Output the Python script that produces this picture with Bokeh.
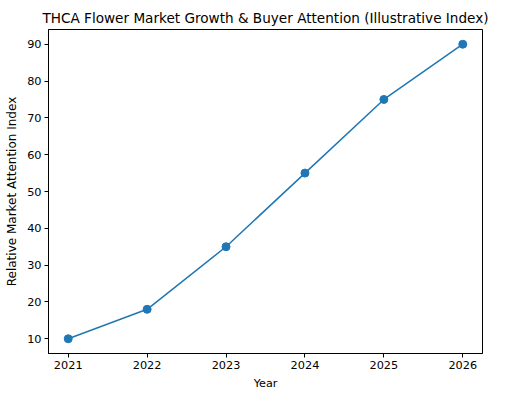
from bokeh.plotting import figure
from bokeh.models import Range1d, FixedTicker
from bokeh.embed import file_html
from bokeh.resources import INLINE

years = [2021, 2022, 2023, 2024, 2025, 2026]
index_values = [10, 18, 35, 55, 75, 90]
y_ticks = [10, 20, 30, 40, 50, 60, 70, 80, 90]

FONT = "DejaVu Sans"
COLOR = "#1f77b4"

p = figure(frame_width=434, frame_height=324, output_backend="svg", toolbar_location=None,
           x_range=Range1d(2020.75, 2026.25), y_range=Range1d(6, 94),
           min_border_left=48, min_border_right=17, min_border_bottom=34, min_border_top=29,
           title="THCA Flower Market Growth & Buyer Attention (Illustrative Index)")

p.line(years, index_values, line_color=COLOR, line_width=1.5)
p.scatter(years, index_values, size=8, fill_color=COLOR, line_color=COLOR)

p.title.text_font = FONT
p.title.text_font_size = "13.6px"
p.title.text_font_style = "normal"
p.title.align = "center"
p.title.text_color = "black"
p.title.offset = 0
p.title.standoff = 7

p.xgrid.visible = False
p.ygrid.visible = False
p.outline_line_color = "black"
p.outline_line_alpha = 1
p.outline_line_width = 1

p.xaxis.ticker = FixedTicker(ticks=years)
p.yaxis.ticker = FixedTicker(ticks=y_ticks)
p.xaxis.axis_label = "Year"
p.yaxis.axis_label = "Relative Market Attention Index"

for ax in (p.xaxis[0], p.yaxis[0]):
    ax.axis_label_text_font = FONT
    ax.axis_label_text_font_style = "normal"
    ax.axis_label_text_color = "black"
    ax.major_label_text_font = FONT
    ax.major_label_text_font_size = "11.3px"
    ax.major_label_text_color = "black"
    ax.minor_tick_line_color = None
    ax.major_tick_out = 4
    ax.major_tick_in = 0
    ax.major_tick_line_color = "black"
    ax.axis_line_color = "black"
    ax.major_label_standoff = 3
    ax.axis_label_standoff = 5

p.xaxis[0].axis_label_text_font_size = "11.2px"
p.yaxis[0].axis_label_text_font_size = "12px"

open("out.html", "w").write(file_html(p, INLINE))
